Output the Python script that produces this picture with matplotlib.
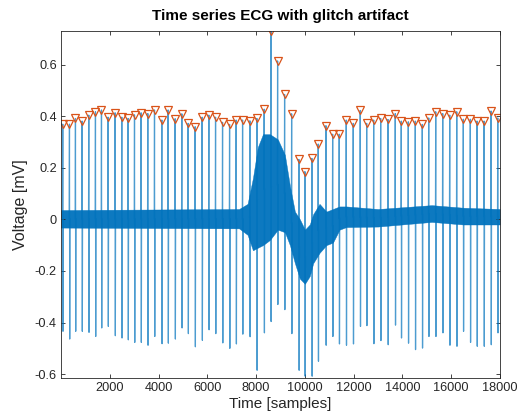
import numpy as np
import matplotlib
matplotlib.use("Agg")
import matplotlib.pyplot as plt

# ---- data ----
peak_locs = [72, 347, 593, 864, 1139, 1413, 1660, 1931, 2218, 2493, 2751, 3014, 3284,
             3559, 3834, 4134, 4392, 4680, 4954, 5213, 5500, 5787, 6062, 6337, 6624,
             6912, 7182, 7445, 7744, 8032, 8331, 8606, 8881, 9168, 9456, 9755, 10001,
             10288, 10547, 10863, 11138, 11408, 11696, 11983, 12270, 12533, 12820,
             13107, 13407, 13706, 13952, 14240, 14527, 14814, 15077, 15364, 15651,
             15938, 16226, 16496, 16783, 17058, 17346, 17633, 17908]
peak_vals = [0.369, 0.369, 0.391, 0.381, 0.404, 0.417, 0.424, 0.396, 0.413, 0.396,
             0.391, 0.405, 0.413, 0.410, 0.424, 0.385, 0.424, 0.390, 0.409, 0.372,
             0.359, 0.396, 0.404, 0.396, 0.376, 0.368, 0.385, 0.385, 0.382, 0.391,
             0.427, 0.730, 0.614, 0.484, 0.409, 0.232, 0.185, 0.236, 0.292, 0.363,
             0.330, 0.330, 0.385, 0.372, 0.422, 0.372, 0.385, 0.391, 0.387, 0.410,
             0.381, 0.378, 0.381, 0.368, 0.393, 0.417, 0.410, 0.404, 0.417, 0.388,
             0.388, 0.381, 0.381, 0.420, 0.393]
trough_vals = [-0.434, -0.464, -0.434, -0.434, -0.438, -0.454, -0.421, -0.415, -0.451,
               -0.460, -0.467, -0.477, -0.477, -0.488, -0.454, -0.482, -0.480, -0.464,
               -0.421, -0.443, -0.494, -0.469, -0.428, -0.443, -0.479, -0.500, -0.483,
               -0.445, -0.455, -0.585, -0.440, -0.396, -0.330, -0.350, -0.443, -0.585,
               -0.608, -0.608, -0.550, -0.488, -0.454, -0.483, -0.488, -0.483, -0.415,
               -0.412, -0.482, -0.470, -0.486, -0.410, -0.460, -0.480, -0.505, -0.499,
               -0.454, -0.454, -0.440, -0.488, -0.492, -0.434, -0.477, -0.492, -0.492,
               -0.486, -0.440]

# envelope of the dense noisy baseline
env_x = [0, 7300, 7650, 7870, 8070, 8280, 8565, 8890, 9180, 9385, 9590, 9795, 10000,
         10200, 10340, 10600, 10880, 11150, 11420, 11700, 13000, 15200, 16500, 18000]
env_lo = [-0.032, -0.035, -0.06, -0.12, -0.11, -0.10, -0.08, -0.04, -0.05, -0.10, -0.17,
          -0.23, -0.25, -0.22, -0.17, -0.13, -0.10, -0.09, -0.04, -0.03, -0.028, -0.01,
          -0.02, -0.02]
env_hi = [0.036, 0.04, 0.06, 0.16, 0.28, 0.33, 0.33, 0.31, 0.25, 0.13, 0.03, 0.0,
          -0.04, -0.02, 0.02, 0.06, 0.03, 0.04, 0.05, 0.05, 0.04, 0.055, 0.045, 0.04]

xticks = [2000, 4000, 6000, 8000, 10000, 12000, 14000, 16000, 18000]
yticks = [-0.6, -0.4, -0.2, 0, 0.2, 0.4, 0.6]
ytick_labels = ["-0.6", "-0.4", "-0.2", "0", "0.2", "0.4", "0.6"]

# ---- figure ----
plt.rcParams['font.family'] = ['Liberation Sans', 'DejaVu Sans']
fig = plt.figure(figsize=(5.21, 4.19), dpi=100)
ax = fig.add_axes([61/521, 1-378/419, (500-61)/521, (378-31)/419])

blue = '#0072BD'
orange = '#D95319'

ax.fill_between(env_x, env_lo, env_hi, color=blue, linewidth=0.3, edgecolor=blue,
                alpha=0.95)

mid_x = np.asarray(env_x, float)
mid_y = (np.asarray(env_lo) + np.asarray(env_hi)) / 2
xs, ys = [], []
for loc, pk, tr in zip(peak_locs, peak_vals, trough_vals):
    b = np.interp(loc, mid_x, mid_y)
    xs += [loc - 10, loc, loc + 10, loc + 20, np.nan]
    ys += [b, pk, tr, b, np.nan]
ax.plot(xs, ys, color=blue, linewidth=0.9, alpha=0.7)

ax.plot(peak_locs, peak_vals, linestyle='none', marker='v', markersize=6,
        markerfacecolor='none', markeredgecolor=orange, markeredgewidth=0.9)

ax.set_xlim(0, 18000)
ax.set_ylim(-0.615, 0.73)
ax.set_xticks(xticks)
ax.set_xticklabels([str(t) for t in xticks])
ax.set_yticks(yticks)
ax.set_yticklabels(ytick_labels)
ax.tick_params(direction='in', top=True, right=True, length=3, width=0.6,
               labelsize=9.2, colors='#262626', pad=3)
for s in ax.spines.values():
    s.set_linewidth(0.6)
    s.set_color('#262626')

ax.set_title('Time series ECG with glitch artifact', fontsize=11, fontweight='bold',
             color='black', pad=8)
ax.set_xlabel('Time [samples]', fontsize=11, color='#262626', labelpad=2)
ax.set_ylabel('Voltage [mV]', fontsize=11.5, color='#262626', labelpad=5)

fig.savefig('out.png', dpi=100)
